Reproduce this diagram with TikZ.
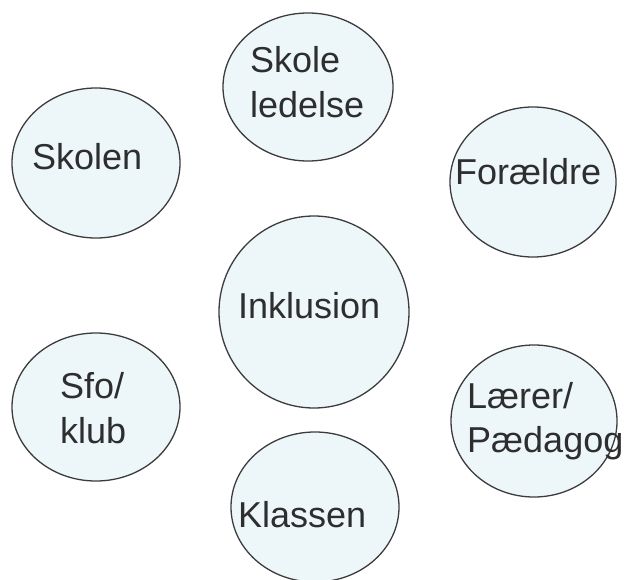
\documentclass[tikz,border=0pt]{standalone}
\usepackage{fontspec}
\setmainfont{Liberation Sans}
\usetikzlibrary{shapes.geometric}
\definecolor{bubblefill}{HTML}{EDF7FA}
\definecolor{bubbleline}{HTML}{3C3C3C}
\definecolor{txt}{HTML}{2E2E2E}
\tikzset{
  bubble/.style={ellipse, draw=bubbleline, fill=bubblefill, line width=1.3pt, inner sep=0pt},
  lbl/.style={anchor=base west, inner sep=0pt, text=txt, font=\fontsize{36}{44}\selectfont}
}
\begin{document}
\begin{tikzpicture}[x=1pt,y=-1pt]
\useasboundingbox (0,0) rectangle (626,580);
% circles
\node[bubble, minimum width=170pt, minimum height=148pt] (ledelse) at (308,87) {};
\node[bubble, minimum width=168pt, minimum height=150pt] (skolen) at (96,163) {};
\node[bubble, minimum width=166pt, minimum height=150pt] (foraeldre) at (533,182) {};
\node[bubble, minimum width=190pt, minimum height=192pt] (inklusion) at (314,312) {};
\node[bubble, minimum width=168pt, minimum height=148pt] (sfo) at (96,407) {};
\node[bubble, minimum width=166pt, minimum height=152pt] (laerer) at (534,421) {};
\node[bubble, minimum width=168pt, minimum height=150pt] (klassen) at (315,507) {};
% labels
\node[lbl] (tledelseA) at (250,73) {Skole};
\node[lbl] (tledelseB) at (250,118) {ledelse};
\node[lbl] (tskolen) at (32,170) {Skolen};
\node[lbl] (tforaeldre) at (455,185) {Forældre};
\node[lbl] (tinklusion) at (238,318) {Inklusion};
\node[lbl] (tsfoA) at (60,398) {Sfo/};
\node[lbl] (tsfoB) at (60,443) {klub};
\node[lbl] (tlaererA) at (467,408) {Lærer/};
\node[lbl] (tlaererB) at (467,452) {Pædagog};
\node[lbl] (tklassen) at (238,527) {Klassen};
\end{tikzpicture}
\end{document}
